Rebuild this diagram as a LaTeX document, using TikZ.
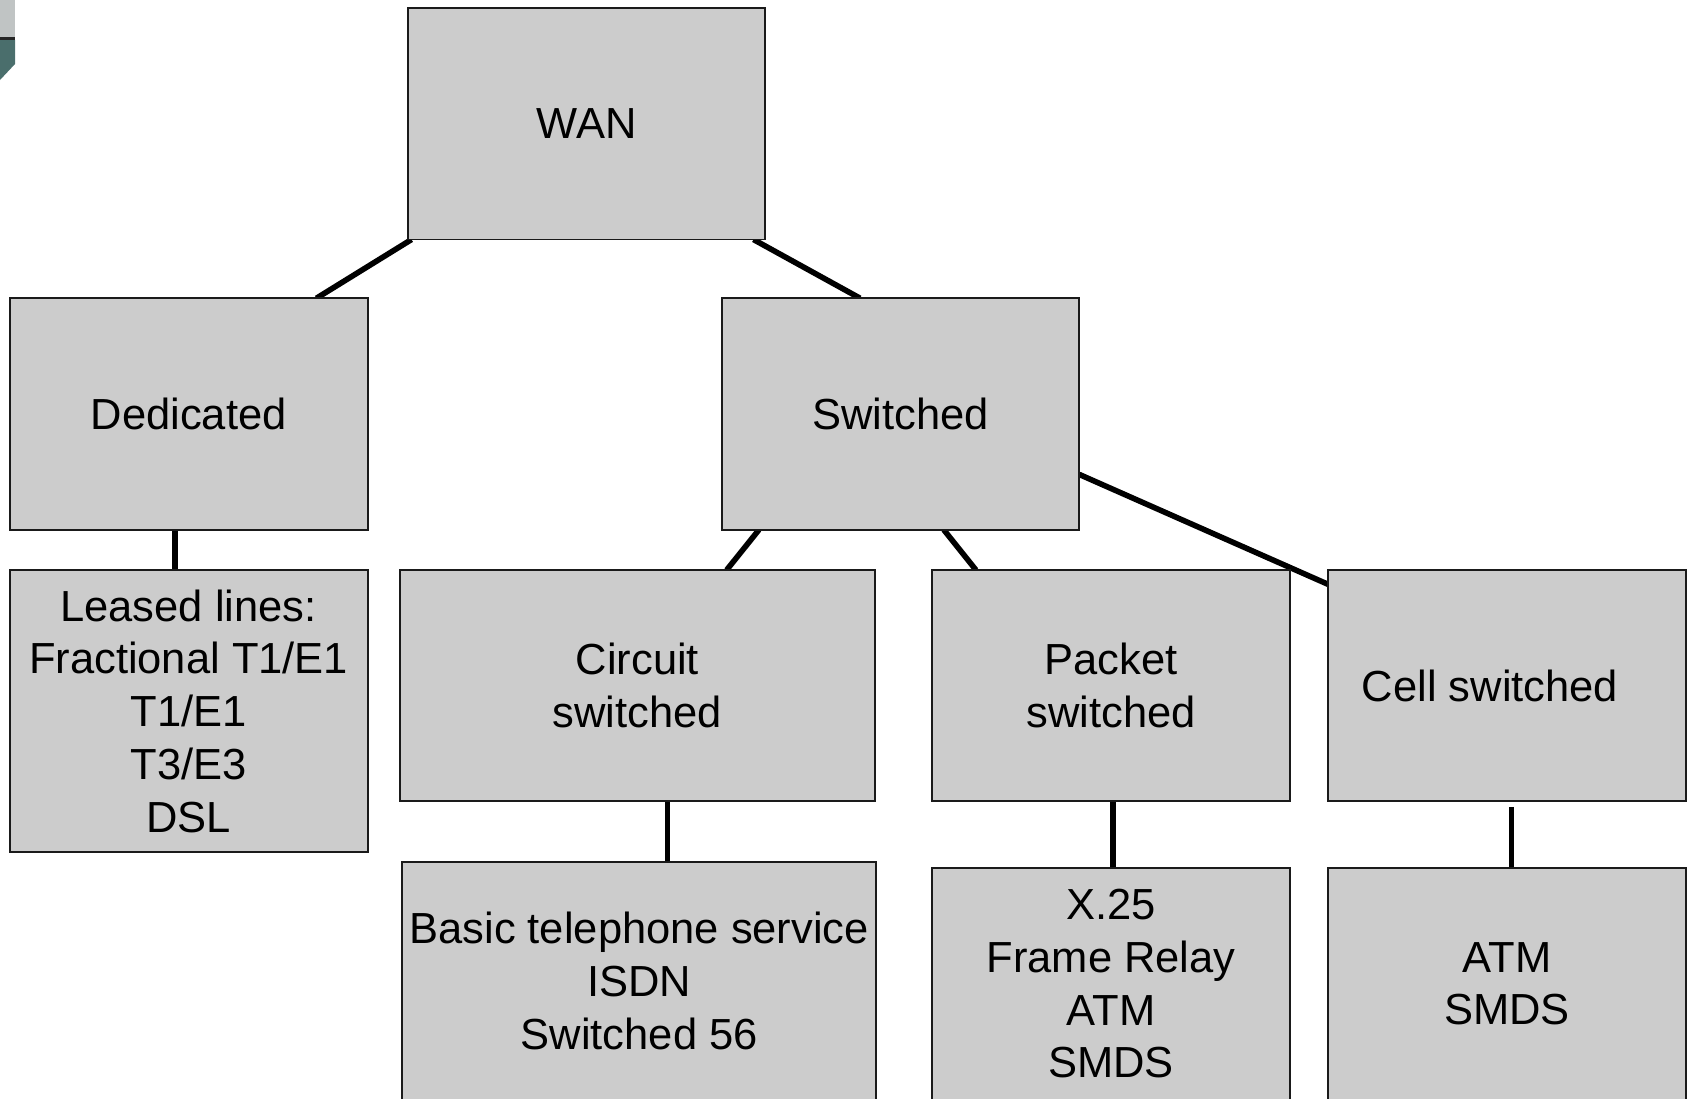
\documentclass[tikz,border=0pt]{standalone}
\usepackage{fontspec}
\setmainfont{Liberation Sans}
\usetikzlibrary{calc}
\pgfdeclarelayer{bg}
\pgfsetlayers{bg,main}
\definecolor{boxfill}{HTML}{CCCCCC}
\definecolor{boxline}{HTML}{1A1A1A}
\definecolor{artgray}{RGB}{192,196,196}
\definecolor{artteal}{RGB}{74,110,108}
\begin{document}
\begin{tikzpicture}[x=1pt,y=-1pt,
  box/.style={draw=boxline, fill=boxfill, line width=1.9pt, inner sep=0pt, outer sep=0pt,
              align=center, font=\fontsize{43.5}{52.8}\selectfont},
  link/.style={draw=black, line width=5.6pt}]
\useasboundingbox (0,0) rectangle (1688,1098);
% corner artifact
\fill[artgray] (0,0) rectangle (15,37);
\fill[black!85] (0,37) rectangle (15,40);
\fill[artteal] (0,40) -- (15,40) -- (15,64) -- (0,80) -- cycle;
% boxes
\node[box, minimum width=357.3pt, minimum height=231.8pt] (wan) at (586.6,123.6) {WAN};
\node[box, minimum width=358pt, minimum height=231.5pt] (ded) at (188.6,414) {Dedicated};
\node[box, minimum width=357.5pt, minimum height=231.5pt] (sw) at (900.5,414) {Switched};
\node[box, minimum width=358pt, minimum height=282.2pt] (leased) at (188.6,711.1)
  {Leased lines:\\Fractional T1/E1\\T1/E1\\T3/E3\\DSL};
\node[box, minimum width=474.7pt, minimum height=231pt] (circ) at (637.4,685.5) {Circuit\\switched};
\node[box, minimum width=357.3pt, minimum height=231pt] (pack) at (1111,685.5) {Packet\\switched};
\node[box, minimum width=357.5pt, minimum height=230.5pt] (cell) at (1507,685.6) {Cell switched\hspace*{34pt}};
\node[box, minimum width=474.3pt, minimum height=238.3pt] (basic) at (639.2,980.9)
  {Basic telephone service\\ISDN\\Switched 56};
\node[box, minimum width=357.3pt, minimum height=232.4pt] (x25) at (1111,983.8)
  {X.25\\Frame Relay\\ATM\\SMDS};
\node[box, minimum width=357.5pt, minimum height=232.4pt] (atm) at (1507,983.8) {ATM\\SMDS};
% connectors
\begin{pgfonlayer}{bg}
\draw[link] ($(wan.south west)!0.01!(wan.south east)$) -- ($(ded.north west)!0.857!(ded.north east)$);
\draw[link] ($(wan.south west)!0.967!(wan.south east)$) -- ($(sw.north west)!0.387!(sw.north east)$);
\draw[link] ($(ded.south west)!0.462!(ded.south east)$) coordinate (d1) -- (d1 |- leased.north);
\draw[link] ($(sw.south west)!0.104!(sw.south east)$) -- ($(circ.north west)!0.688!(circ.north east)$);
\draw[link] ($(sw.south west)!0.621!(sw.south east)$) -- ($(pack.north west)!0.122!(pack.north east)$);
\draw[link] ($(sw.north east)!0.761!(sw.south east)$) -- ($(cell.north west)!0.061!(cell.south west)$);
\draw[link] ($(circ.south west)!0.563!(circ.south east)$) coordinate (c1) -- (c1 |- basic.north);
\draw[link] ($(pack.south west)!0.506!(pack.south east)$) coordinate (p1) -- (p1 |- x25.north);
\draw[link] ($(cell.south west)!0.513!(cell.south east)+(0,6)$) coordinate (e1) -- (e1 |- atm.north);
\end{pgfonlayer}
\end{tikzpicture}
\end{document}
